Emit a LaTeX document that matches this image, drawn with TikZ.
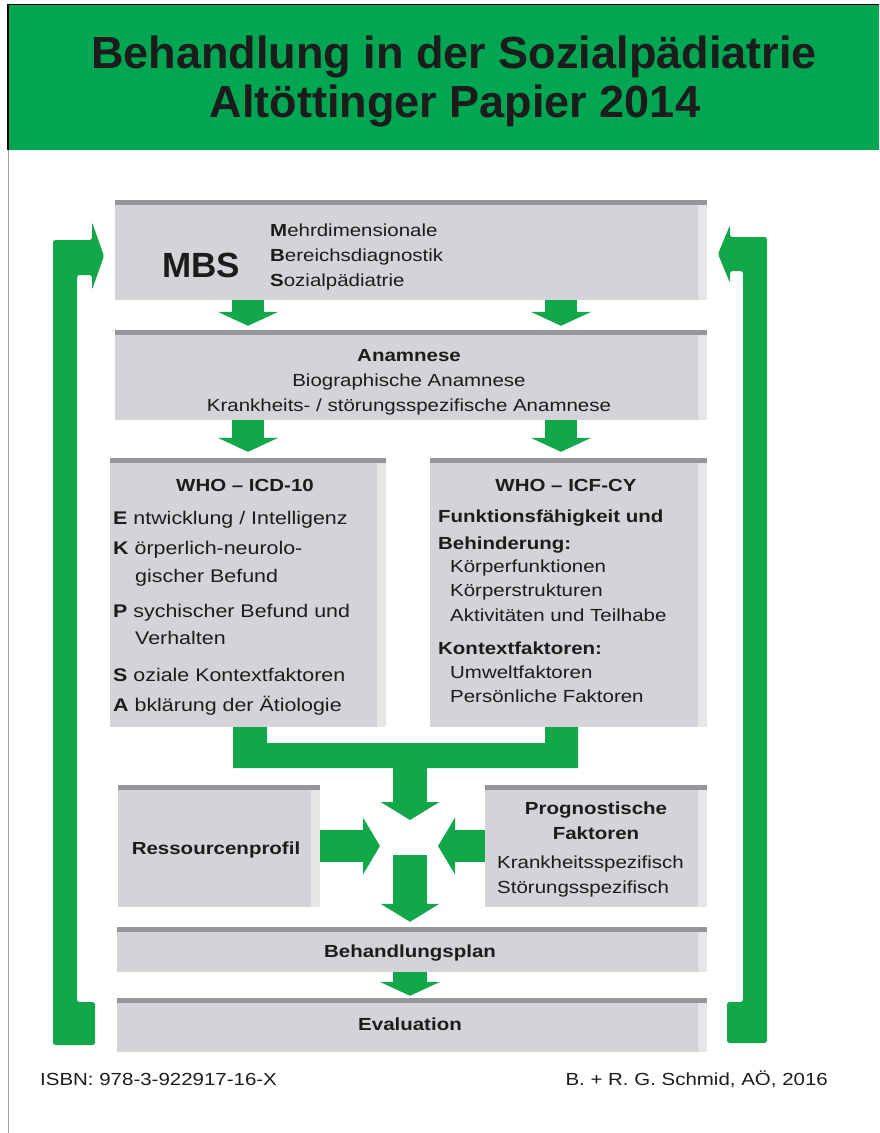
\documentclass[tikz,border=0pt]{standalone}
\usepackage{fontspec}
\setmainfont{Liberation Sans}
\newfontfamily\bodyfont[FakeStretch=1.17]{Liberation Sans}
\usetikzlibrary{arrows.meta}
\definecolor{hgreen}{RGB}{0,166,81}
\definecolor{agreen}{RGB}{18,168,74}
\definecolor{boxgray}{RGB}{212,212,216}
\definecolor{boxtop}{RGB}{150,150,154}
\definecolor{boxside}{RGB}{230,230,233}
\definecolor{ink}{RGB}{28,28,28}
\tikzset{
  slab/.style={rectangle, inner sep=0pt, fill=boxgray, path picture={
      \fill[boxside] ([xshift=-9pt]path picture bounding box.north east) rectangle (path picture bounding box.south east);
      \fill[boxtop] (path picture bounding box.north west) -- (path picture bounding box.north east)
        -- ([yshift=-5pt]path picture bounding box.north east) -- ([yshift=-5pt]path picture bounding box.north west) -- cycle;
  }},
  txt/.style={inner sep=0pt, anchor=west, text=ink, text height=12.5pt, text depth=3.5pt,
     font=\bodyfont\fontsize{17.5}{21}\selectfont},
  itxt/.style={txt, font=\bodyfont\fontsize{18.3}{22}\selectfont},
  ctxt/.style={txt, anchor=center},
  btxt/.style={ctxt, font=\bodyfont\fontsize{17.5}{21}\selectfont\bfseries},
  bltxt/.style={txt, font=\bodyfont\fontsize{17.5}{21}\selectfont\bfseries},
  blockarrow/.style={draw=agreen, line width=32pt, -{Triangle[width=60pt,length=14pt]}},
  bigarrow/.style={draw=agreen, line width=34pt, -{Triangle[width=58pt,length=18pt]}},
  sidearrow/.style={draw=agreen, line width=32pt, -{Triangle[width=56pt,length=17pt]}},
}
\begin{document}
\begin{tikzpicture}[x=1pt,y=-1pt]
\useasboundingbox (0,0) rectangle (879,1133);
\fill[white] (0,0) rectangle (879,1133);
% header
\fill[hgreen] (8,5) rectangle (879,150);
\draw[black, line width=1.2pt] (879,4.6) -- (8,4.6) -- (8,150);
\draw[gray!70, line width=0.8pt] (8,150) -- (8,1133);
\node[inner sep=0pt, text=ink, font=\fontsize{45}{50}\selectfont\bfseries] (title1) at (454,57) {Behandlung in der Sozialpädiatrie};
\node[inner sep=0pt, text=ink, font=\fontsize{45}{50}\selectfont\bfseries] (title2) at (455,106) {Altöttinger Papier 2014};

% boxes
\node[slab, minimum width=592pt, minimum height=100pt] (mbs) at (411,250) {};
\node[slab, minimum width=592pt, minimum height=90pt] (ana) at (411,375) {};
\node[slab, minimum width=276pt, minimum height=269pt] (icd) at (248,592.5) {};
\node[slab, minimum width=277pt, minimum height=269pt] (icf) at (568.5,592.5) {};
\node[slab, minimum width=202pt, minimum height=122pt] (ress) at (219,846) {};
\node[slab, minimum width=222pt, minimum height=122pt] (prog) at (596,846) {};
\node[slab, minimum width=590pt, minimum height=45pt] (plan) at (412,949.5) {};
\node[slab, minimum width=590pt, minimum height=54pt] (eval) at (412,1025) {};

% helper coordinates
\coordinate (cl) at (248,0);
\coordinate (cr) at (561,0);
\coordinate (hub) at (410,846);
\coordinate (band) at (410,766);
\coordinate (low) at (410,855);

% arrows between top boxes
\draw[blockarrow, shorten >=4pt] (mbs.south -| cl) -- (ana.north -| cl);
\draw[blockarrow, shorten >=4pt] (mbs.south -| cr) -- (ana.north -| cr);
\draw[blockarrow, shorten >=6pt] (ana.south -| cl) -- (icd.north -| cl);
\draw[blockarrow, shorten >=6pt] (ana.south -| cr) -- (icf.north -| cr);

% merge
\fill[agreen] (233,727) -- (267,727) -- (267,743) -- (545,743) -- (545,727) -- (578,727)
   -- (578,768) -- (233,768) -- cycle;
\draw[bigarrow, shorten >=26pt] (band) -- (hub);
\draw[sidearrow, shorten >=30pt] (ress.east) -- (hub);
\draw[sidearrow, shorten >=28pt] (prog.west) -- (hub);
\draw[bigarrow, shorten >=5pt] (low) -- (hub |- plan.north);
\draw[blockarrow, line width=34pt, shorten >=2pt] (hub |- plan.south) -- (hub |- eval.north);

% feedback loops
\fill[agreen, rounded corners=2.5pt] (53,1045) -- (53,240) -- (92,240) -- (92,222) -- (104,256) -- (92,290)
   -- (92,275) -- (77,275) -- (77,1002) -- (95,1002) -- (95,1045) -- cycle;
\fill[agreen, rounded corners=2.5pt] (767,1043) -- (767,237) -- (730,237) -- (730,225) -- (718,254) -- (730,283)
   -- (730,271) -- (743,271) -- (743,1002) -- (727,1002) -- (727,1043) -- cycle;

% MBS text
\node[inner sep=0pt, text=ink, font=\fontsize{35}{40}\selectfont\bfseries] (mbsT) at (201,265) {MBS};
\node[txt] (mbs1) at (270,232) {\textbf{M}ehrdimensionale};
\node[txt] (mbs2) at (270,257) {\textbf{B}ereichsdiagnostik};
\node[txt] (mbs3) at (270,282) {\textbf{S}ozialpädiatrie};

% Anamnese
\node[btxt] (ana1) at (409,357) {Anamnese};
\node[ctxt] (ana2) at (409,382) {Biographische Anamnese};
\node[ctxt] (ana3) at (409,407) {Krankheits- / störungsspezifische Anamnese};

% ICD
\node[btxt] (icdH) at (245,487) {WHO – ICD-10};
\node[itxt] (icd1) at (113,520) {\textbf{E} ntwicklung / Intelligenz};
\node[itxt] (icd2) at (113,550) {\textbf{K} örperlich-neurolo-};
\node[itxt] (icd3) at (135,578) {gischer Befund};
\node[itxt] (icd4) at (113,613) {\textbf{P} sychischer Befund und};
\node[itxt] (icd5) at (135,640) {Verhalten};
\node[itxt] (icd6) at (113,677) {\textbf{S} oziale Kontextfaktoren};
\node[itxt] (icd7) at (113,707) {\textbf{A} bklärung der Ätiologie};

% ICF
\node[btxt] (icfH) at (566,487) {WHO – ICF-CY};
\node[bltxt] (icf1) at (438,518) {Funktionsfähigkeit und};
\node[bltxt] (icf2) at (438,545) {Behinderung:};
\node[txt] (icf3) at (450,568) {Körperfunktionen};
\node[txt] (icf4) at (450,592) {Körperstrukturen};
\node[txt] (icf5) at (450,617) {Aktivitäten und Teilhabe};
\node[bltxt] (icf6) at (438,650) {Kontextfaktoren:};
\node[txt] (icf7) at (450,674) {Umweltfaktoren};
\node[txt] (icf8) at (450,698) {Persönliche Faktoren};

% lower boxes
\node[btxt] (ressT) at (216,850) {Ressourcenprofil};
\node[btxt] (prog1) at (596,810) {Prognostische};
\node[btxt] (prog2) at (596,835) {Faktoren};
\node[txt] (prog3) at (497,864) {Krankheitsspezifisch};
\node[txt] (prog4) at (497,889) {Störungsspezifisch};
\node[btxt] (planT) at (410,953) {Behandlungsplan};
\node[btxt] (evalT) at (410,1026) {Evaluation};

% footer
\node[txt] (isbn) at (40,1081) {ISBN: 978-3-922917-16-X};
\node[txt, anchor=east] (auth) at (828,1081) {B. + R. G. Schmid, AÖ, 2016};
\end{tikzpicture}
\end{document}
